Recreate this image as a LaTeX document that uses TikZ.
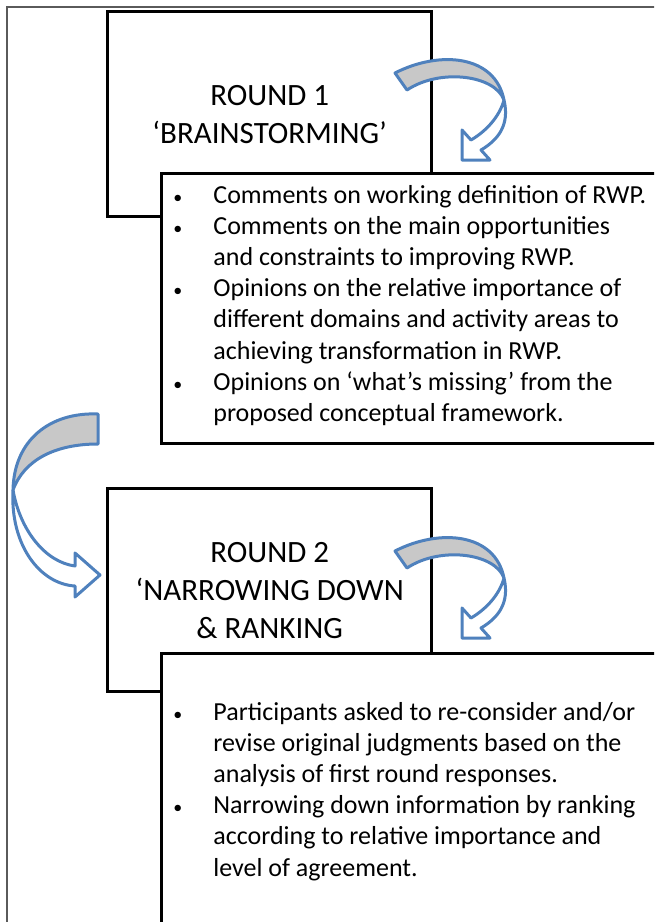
\documentclass[tikz,border=0pt]{standalone}
\usepackage{fontspec}
\setmainfont{Carlito}
\usepackage{tikz}
\usetikzlibrary{positioning}
\usepackage{xcolor}
\definecolor{cFrame}{RGB}{90,90,90}
\definecolor{cArrLine}{RGB}{79,129,189}
\definecolor{cArrBack}{RGB}{200,200,200}
\newcommand{\titlefont}{\fontsize{15.5}{19}\selectfont}
\newcommand{\listfont}{\fontsize{13}{15.6}\selectfont}
\newcommand{\bul}{{\fontsize{9}{9}\selectfont\textbullet}}
\tikzset{
  roundbox/.style={rectangle,draw=black,line width=1.7pt,fill=white,
                   anchor=north west,minimum width=162pt,inner sep=0pt,
                   align=center,font=\titlefont},
  listbox/.style={rectangle,draw=black,line width=1.7pt,fill=white,
                  anchor=north west,minimum width=260pt,inner sep=0pt},
  listtext/.style={anchor=base west,inner sep=0pt,align=left,font=\listfont},
  backpart/.style={fill=cArrBack,draw=cArrLine,line width=1.5pt,line join=round},
  frontpart/.style={fill=white,draw=cArrLine,line width=1.5pt,line join=round}
}

\begin{document}
\begin{tikzpicture}[x=0.5pt,y=-0.5pt]

  \useasboundingbox (0,0) rectangle (654,922);
  \clip (0,0) rectangle (654,922);

  \draw[cFrame,line width=0.75pt] (7,940) -- (7,7) -- (680,7);

  \node[roundbox,minimum height=102.5pt] (round1) at (106,10)
      {ROUND 1\\‘BRAINSTORMING’};

  \node[listbox,minimum height=135pt] (list1) at (160,172) {};
  \node[listtext] (list1txt) at (173,203)
      {\begin{tabular}[t]{@{}p{20pt}@{}l@{}}
       \bul & Comments on working definition of RWP.\\
       \bul & Comments on the main opportunities\\
            & and constraints to improving RWP.\\
       \bul & Opinions on the relative importance of\\
            & different domains and activity areas to\\
            & achieving transformation in RWP.\\
       \bul & Opinions on ‘what’s missing’ from the\\
            & proposed conceptual framework.
       \end{tabular}};

  \node[roundbox,minimum height=101.5pt] (round2) at (106,487)
      {ROUND 2\\‘NARROWING DOWN\\\& RANKING};

  \node[listbox,minimum height=150pt] (list2) at (160,652) {};
  \node[listtext] (list2txt) at (173,720)
      {\begin{tabular}[t]{@{}p{20pt}@{}l@{}}
       \bul & Participants asked to re-consider and/or\\
            & revise original judgments based on the\\
            & analysis of first round responses.\\
       \bul & Narrowing down information by ranking\\
            & according to relative importance and\\
            & level of agreement.
       \end{tabular}};

  % round 1 -> its list
  \draw[backpart] (395,73) .. controls (440,50) and (495,55) .. (504,100)
      .. controls (495,75) and (440,68) .. (407,90) -- cycle;
  \draw[frontpart] (504,100) .. controls (510,125) and (498,140) .. (481,150)
      -- (490,160) -- (462,160) -- (462,130) -- (471,140)
      .. controls (488,130) and (500,115) .. (504,100) -- cycle;

  % round 1 list -> round 2
  \draw[backpart] (98,414) .. controls (50,412) and (14,440) .. (13,490)
      .. controls (24,460) and (55,444) .. (98,444) -- cycle;
  \draw[frontpart] (13,490) .. controls (10,545) and (40,584) .. (75,586)
      -- (75,597) -- (100,575) -- (75,553) -- (75,566)
      .. controls (45,562) and (20,530) .. (13,490) -- cycle;

  % round 2 -> its list
  \begin{scope}[shift={(0,478)}]
    \draw[backpart] (395,73) .. controls (440,50) and (495,55) .. (504,100)
        .. controls (495,75) and (440,68) .. (407,90) -- cycle;
    \draw[frontpart] (504,100) .. controls (510,125) and (498,140) .. (481,150)
        -- (490,160) -- (462,160) -- (462,130) -- (471,140)
        .. controls (488,130) and (500,115) .. (504,100) -- cycle;
  \end{scope}

\end{tikzpicture}
\end{document}
